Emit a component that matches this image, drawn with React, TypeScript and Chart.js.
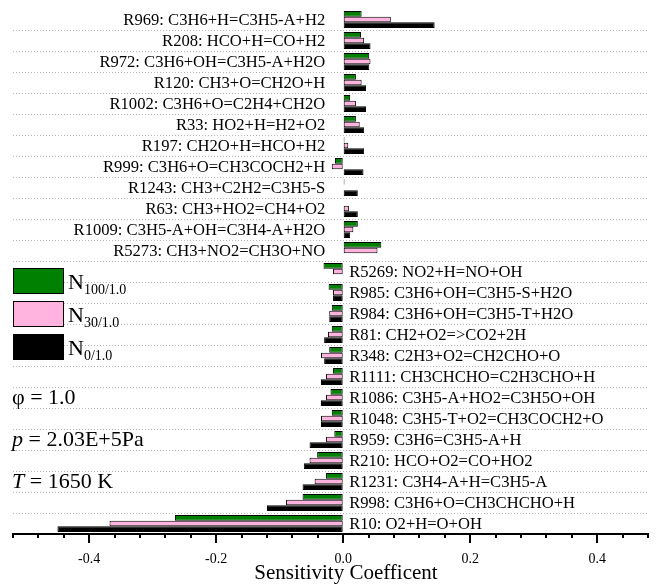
import React, { useEffect, useRef } from "react";
import { Chart, registerables } from "chart.js";

Chart.register(...registerables);

const reactions = [
  "R969: C3H6+H=C3H5-A+H2",
  "R208: HCO+H=CO+H2",
  "R972: C3H6+OH=C3H5-A+H2O",
  "R120: CH3+O=CH2O+H",
  "R1002: C3H6+O=C2H4+CH2O",
  "R33: HO2+H=H2+O2",
  "R197: CH2O+H=HCO+H2",
  "R999: C3H6+O=CH3COCH2+H",
  "R1243: CH3+C2H2=C3H5-S",
  "R63: CH3+HO2=CH4+O2",
  "R1009: C3H5-A+OH=C3H4-A+H2O",
  "R5273: CH3+NO2=CH3O+NO",
  "R5269: NO2+H=NO+OH",
  "R985: C3H6+OH=C3H5-S+H2O",
  "R984: C3H6+OH=C3H5-T+H2O",
  "R81: CH2+O2=>CO2+2H",
  "R348: C2H3+O2=CH2CHO+O",
  "R1111: CH3CHCHO=C2H3CHO+H",
  "R1086: C3H5-A+HO2=C3H5O+OH",
  "R1048: C3H5-T+O2=CH3COCH2+O",
  "R959: C3H6=C3H5-A+H",
  "R210: HCO+O2=CO+HO2",
  "R1231: C3H4-A+H=C3H5-A",
  "R998: C3H6+O=CH3CHCHO+H",
  "R10: O2+H=O+OH",
];

const n100 = [
  0.029, 0.028, 0.041, 0.02, 0.011, 0.02, 0.002, -0.013, 0.002, 0.001, 0.023, 0.06,
  -0.031, -0.023, -0.018, -0.018, -0.022, -0.016, -0.02, -0.018, -0.014, -0.041, -0.027, -0.064, -0.265,
];
const n30 = [
  0.075, 0.033, 0.043, 0.029, 0.02, 0.026, 0.008, -0.018, 0.001, 0.009, 0.016, 0.054,
  -0.016, -0.016, -0.022, -0.024, -0.035, -0.027, -0.027, -0.035, -0.027, -0.053, -0.045, -0.09, -0.368,
];
const n0 = [
  0.144, 0.043, 0.041, 0.036, 0.036, 0.033, 0.033, 0.032, 0.023, 0.023, 0.011, 0.0,
  0.0, -0.016, -0.022, -0.03, -0.03, -0.035, -0.035, -0.035, -0.053, -0.062, -0.064, -0.12, -0.45,
];

const seriesSubs = ["100/1.0", "30/1.0", "0/1.0"];
const seriesColors = ["#008000", "#ffb3de", "#000000"];

const xMin = -0.52;
const xMax = 0.48;
const xStep = 0.04;
const xMajorStep = 0.2;

const axisTitle = "Sensitivity Coefficent";
const conditions = [
  { italic: "", rest: "\u03c6 = 1.0" },
  { italic: "p", rest: " = 2.03E+5Pa" },
  { italic: "T", rest: " = 1650 K" },
];

const SERIF = '"Liberation Serif", "Times New Roman", Times, serif';

export default function App() {
  const ref = useRef<HTMLCanvasElement | null>(null);

  useEffect(() => {
    if (!ref.current) return;
    const allSeries = [n100, n30, n0];

    const isMajor = (v: number) => {
      const r = Math.round(v * 100);
      return Math.abs(r % Math.round(xMajorStep * 100)) === 0;
    };

    const overlay = {
      id: "overlay",
      afterDatasetsDraw(chart: any) {
        const ctx = chart.ctx;
        const xs = chart.scales.x;
        const ys = chart.scales.y;
        const x0 = xs.getPixelForValue(0);
        ctx.save();
        ctx.fillStyle = "#000";
        ctx.font = `16.6px ${SERIF}`;
        ctx.textBaseline = "middle";
        reactions.forEach((name, i) => {
          let best = 0;
          allSeries.forEach((s) => {
            if (Math.abs(s[i]) > Math.abs(best)) best = s[i];
          });
          const y = ys.getPixelForValue(i) + 1;
          if (best >= 0) {
            ctx.textAlign = "right";
            ctx.fillText(name, x0 - 18, y);
          } else {
            ctx.textAlign = "left";
            ctx.fillText(name, x0 + 6, y);
          }
        });
        ctx.restore();
      },
      afterDraw(chart: any) {
        const ctx = chart.ctx;
        const xs = chart.scales.x;
        const area = chart.chartArea;
        ctx.save();
        // ticks
        ctx.strokeStyle = "#000";
        ctx.lineWidth = 2;
        xs.ticks.forEach((t: any) => {
          const x = Math.round(xs.getPixelForValue(t.value));
          const len = isMajor(t.value) ? 9 : 4;
          ctx.beginPath();
          ctx.moveTo(x, area.bottom);
          ctx.lineTo(x, area.bottom + len);
          ctx.stroke();
        });
        // axis title
        ctx.fillStyle = "#000";
        ctx.font = `21px ${SERIF}`;
        ctx.textAlign = "center";
        ctx.textBaseline = "alphabetic";
        ctx.fillText(axisTitle, 346, 579);
        // legend
        ctx.textAlign = "left";
        seriesSubs.forEach((sub, k) => {
          const by = 268 + 33 * k;
          ctx.fillStyle = seriesColors[k];
          ctx.fillRect(13, by, 50, 25);
          ctx.lineWidth = 1;
          ctx.strokeStyle = "#000";
          ctx.strokeRect(13.5, by + 0.5, 50, 25);
          ctx.fillStyle = "#000";
          ctx.font = `22px ${SERIF}`;
          ctx.fillText("N", 68, by + 21);
          const w = ctx.measureText("N").width;
          ctx.font = `14px ${SERIF}`;
          ctx.fillText(sub, 68 + w, by + 26);
        });
        // conditions
        conditions.forEach((c, k) => {
          const y = 404 + 42 * k;
          let x = 12;
          if (c.italic) {
            ctx.font = `italic 22px ${SERIF}`;
            ctx.fillText(c.italic, x, y);
            x += ctx.measureText(c.italic).width;
          }
          ctx.font = `22px ${SERIF}`;
          ctx.fillText(c.rest, x, y);
        });
        ctx.restore();
      },
    };

    const chart = new Chart(ref.current, {
      type: "bar",
      data: {
        labels: reactions,
        datasets: allSeries.map((data, k) => ({
          label: "N" + seriesSubs[k],
          data,
          backgroundColor: seriesColors[k],
          borderColor: "#000",
          borderWidth: 1,
          borderSkipped: false,
          categoryPercentage: 0.82,
          barPercentage: 1.0,
        })),
      },
      options: {
        indexAxis: "y",
        animation: false,
        responsive: true,
        maintainAspectRatio: false,
        events: [],
        layout: { padding: { left: 13, right: 4, top: 9, bottom: 0 } },
        plugins: {
          legend: { display: false },
          tooltip: { enabled: false },
          title: { display: false },
        },
        scales: {
          x: {
            type: "linear",
            min: xMin,
            max: xMax,
            afterFit: (s: any) => {
              s.height = 53;
            },
            ticks: {
              stepSize: xStep,
              autoSkip: false,
              maxRotation: 0,
              padding: 8,
              color: "#000",
              font: { family: SERIF, size: 14 },
              callback: (v: any) => {
                const r = Math.round(Number(v) * 100);
                if (r % Math.round(xMajorStep * 100) !== 0) return "";
                return (r / 100).toFixed(1);
              },
            },
            grid: {
              display: true,
              drawOnChartArea: false,
              drawTicks: true,
              tickLength: 9,
              tickColor: "rgba(0,0,0,0)",
            },
            border: { display: true, color: "#000", width: 2 },
          },
          y: {
            type: "category",
            afterFit: (s: any) => {
              s.width = 0;
            },
            ticks: { display: false },
            grid: {
              offset: true,
              drawTicks: false,
              lineWidth: 1,
              color: (c: any) => (c.index === 0 ? "rgba(0,0,0,0)" : "#b8b8b8"),
            },
            border: { display: false, dash: [1, 2] },
          },
        },
      },
      plugins: [overlay],
    } as any);

    return () => chart.destroy();
  }, []);

  return (
    <div
      style={{
        position: "fixed",
        left: 0,
        top: 0,
        width: 656,
        height: 587,
        background: "#fff",
      }}
    >
      <canvas ref={ref} />
    </div>
  );
}
